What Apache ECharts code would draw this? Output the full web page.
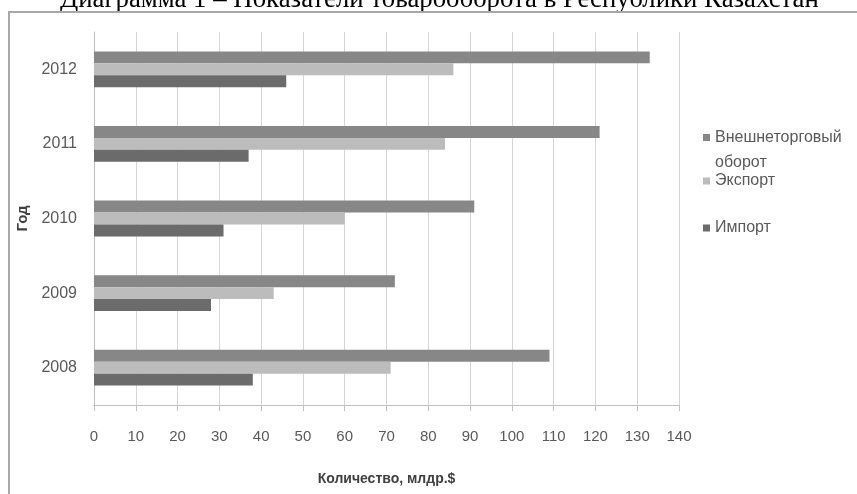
<!DOCTYPE html>
<html>
<head>
<meta charset="utf-8">
<script src="https://cdn.jsdelivr.net/npm/echarts@6/dist/echarts.min.js"></script>
<style>
  html, body { margin: 0; padding: 0; background: #fff; }
  #chart { width: 857px; height: 494px; position: absolute; left: 0; top: 0; }
  #frame { position: absolute; left: 8px; top: 11px; width: 900px; height: 500px;
           border-top: 2px solid #a8a8a8; border-left: 2px solid #a8a8a8; pointer-events: none; }
</style>
</head>
<body>
<div id="chart"></div>
<div id="frame"></div>
<script>
const titleText = 'Диаграмма 1 – Показатели товарооборота в Республики Казахстан';
const years = ['2008', '2009', '2010', '2011', '2012'];
const seriesNames = ['Внешнеторговый оборот', 'Экспорт', 'Импорт'];
const totalTurnover = [109, 72, 91, 121, 133];
const exportValues = [71, 43, 60, 84, 86];
const importValues = [38, 28, 31, 37, 46];
const xTicks = { min: 0, max: 140, interval: 10 };
const xAxisName = 'Количество, млдр.$';
const yAxisName = 'Год';

const colors = ['#878787', '#bcbcbc', '#6b6b6b'];
const values = [totalTurnover, exportValues, importValues];

const chart = echarts.init(document.getElementById('chart'), null, { renderer: 'canvas' });

const legendText = { fontFamily: 'Liberation Sans', fontSize: 16, color: '#595959' };

chart.setOption({
  animation: false,
  title: {
    text: titleText,
    left: 55,
    top: -19,
    textStyle: { fontFamily: 'Liberation Serif', fontSize: 26.8, fontWeight: 'normal', color: '#000' }
  },
  grid: { left: 94, right: 178, top: 32, bottom: 89 },
  legend: [
    {
      data: [seriesNames[0]], left: 698, top: 95, itemWidth: 7, itemHeight: 7, icon: 'rect',
      formatter: n => '\nВнешнеторговый\nоборот',
      textStyle: Object.assign({}, legendText, { lineHeight: 25 })
    },
    { data: [seriesNames[1]], left: 698, top: 168, itemWidth: 7, itemHeight: 7, icon: 'rect', textStyle: legendText },
    { data: [seriesNames[2]], left: 698, top: 215, itemWidth: 7, itemHeight: 7, icon: 'rect', textStyle: legendText }
  ],
  xAxis: {
    type: 'value',
    min: xTicks.min, max: xTicks.max, interval: xTicks.interval,
    name: xAxisName, nameLocation: 'middle', nameGap: 67,
    nameTextStyle: { fontFamily: 'Liberation Sans', fontSize: 14, fontWeight: 'bold', color: '#404040' },
    axisLine: { show: true, lineStyle: { color: '#bfbfbf', width: 1 } },
    axisTick: { show: true, length: 6, lineStyle: { color: '#bfbfbf' } },
    axisLabel: { margin: 24, fontFamily: 'Liberation Sans', fontSize: 15, color: '#595959' },
    splitLine: { show: true, lineStyle: { color: '#d6d6d6', width: 1 } }
  },
  yAxis: {
    type: 'category',
    data: years,
    name: yAxisName, nameLocation: 'middle', nameGap: 62, nameRotate: 90,
    nameTextStyle: { fontFamily: 'Liberation Sans', fontSize: 15, fontWeight: 'bold', color: '#404040' },
    axisLine: { show: true, lineStyle: { color: '#bfbfbf', width: 1 } },
    axisTick: { show: false },
    axisLabel: { margin: 17, fontFamily: 'Liberation Sans', fontSize: 16, color: '#595959' },
    splitLine: { show: false }
  },
  series: seriesNames.map((name, i) => ({
    name: name,
    type: 'bar',
    data: values[i],
    barGap: '0%',
    barCategoryGap: '52%',
    itemStyle: { color: colors[i] }
  }))
});
</script>
</body>
</html>
